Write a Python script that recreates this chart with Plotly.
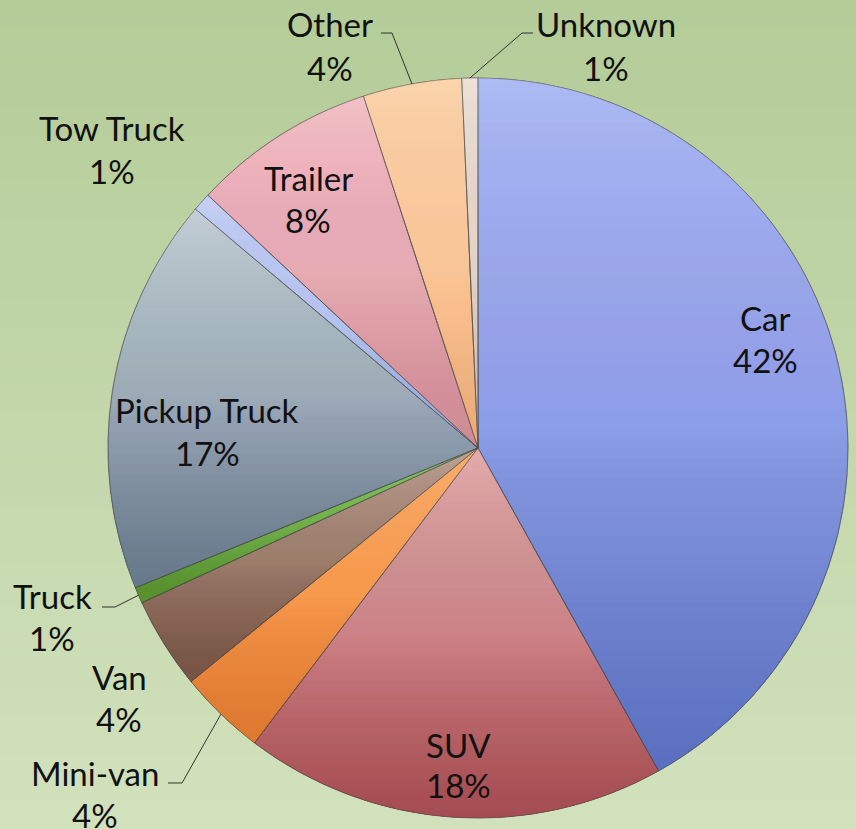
import math
import plotly.graph_objects as go

# ---------------- data ----------------
categories = ["Car", "SUV", "Mini-van", "Van", "Truck", "Pickup Truck",
              "Tow Truck", "Trailer", "Other", "Unknown"]
shares = [41.8, 18.4, 3.8, 4.0, 0.7, 17.3, 0.8, 8.0, 4.3, 0.7]

# ---------------- styles ----------------
# (top, middle, bottom) shade of each slice's vertical gradient
slice_shades = [
    ("#b4c2f7", "#8c9ee8", "#5a70c2"),   # Car
    ("#ecb2b4", "#cc8286", "#a64c50"),   # SUV
    ("#fbb676", "#f79a4e", "#e07c32"),   # Mini-van
    ("#c6ac9c", "#9c7b68", "#765646"),   # Van
    ("#9ad070", "#72ae48", "#5a9030"),   # Truck
    ("#ccd5df", "#9ca9b6", "#66788a"),   # Pickup Truck
    ("#ccd7f8", "#b3c2f0", "#97a8e0"),   # Tow Truck
    ("#f6c8cc", "#e6aab1", "#d08e96"),   # Trailer
    ("#fddab4", "#f9c699", "#f0ae78"),   # Other
    ("#f2e6de", "#e4d4c6", "#d2bfae"),   # Unknown
]
slice_colors = [s[1] for s in slice_shades]

W, H = 856, 829
CX, CY, R = 478, 448, 370          # pie geometry in pixels

FONT = "Lato"
FSIZE = 33

# label layout (pixels): x center, y of name line, y of percent line
label_pos = {
    "Car": (765, 318, 360),
    "SUV": (458, 745, 785),
    "Mini-van": (95, 773, 815),
    "Van": (119, 677, 719),
    "Truck": (52, 596, 638),
    "Pickup Truck": (207, 410, 453),
    "Tow Truck": (112, 128, 171),
    "Trailer": (308, 178, 220),
    "Other": (330, 24, 68),
    "Unknown": (606, 24, 68),
}
# leader ticks (pixels): x start, x end of the short horizontal tick, y
leader_ticks = {
    "Other": (381, 392, 33),
    "Unknown": (533, 522, 33),
    "Truck": (102, 115, 607),
    "Mini-van": (168, 182, 783),
}


def px(x):
    return x / W


def py(y):
    return 1 - y / H


def hex2rgb(h):
    h = h.lstrip("#")
    return tuple(int(h[i:i + 2], 16) for i in (0, 2, 4))


def clip(poly, yk, keep_below):
    """Sutherland-Hodgman clip of polygon against horizontal line y=yk."""
    def inside(p):
        return p[1] >= yk if keep_below else p[1] <= yk
    out = []
    n = len(poly)
    for i in range(n):
        cur, prev = poly[i], poly[i - 1]
        ci, pi_ = inside(cur), inside(prev)
        if ci:
            if not pi_:
                t = (yk - prev[1]) / (cur[1] - prev[1])
                out.append((prev[0] + t * (cur[0] - prev[0]), yk))
            out.append(cur)
        elif pi_:
            t = (yk - prev[1]) / (cur[1] - prev[1])
            out.append((prev[0] + t * (cur[0] - prev[0]), yk))
    return out


def path_of(poly, close=True):
    s = "M " + " L ".join("%.5f %.5f" % (px(x), py(y)) for x, y in poly)
    return s + (" Z" if close else "")


fig = go.Figure()
fig.add_trace(go.Pie(
    labels=categories,
    values=shares,
    sort=False,
    direction="clockwise",
    rotation=0,
    marker=dict(colors=slice_colors, line=dict(color="rgba(70,70,70,0.5)", width=1)),
    textinfo="none",
    hoverinfo="label+percent",
    showlegend=False,
    domain=dict(x=[(CX - R) / W, (CX + R) / W], y=[1 - (CY + R) / H, 1 - (CY - R) / H]),
))

shapes = []
# background gradient (light green, lighter towards the bottom)
top_c = (180, 204, 152)
bot_c = (209, 225, 188)
NB = 60
for i in range(NB):
    t = i / (NB - 1)
    c = tuple(round(top_c[k] + (bot_c[k] - top_c[k]) * t) for k in range(3))
    shapes.append(dict(type="rect", xref="paper", yref="paper", layer="below",
                       x0=-0.01, x1=1.01, y0=1 - (i + 1) / NB - 0.003, y1=1 - i / NB + 0.003,
                       fillcolor="rgb(%d,%d,%d)" % c, line=dict(width=0)))

# vertical shading of each slice (Excel-like gradient fill), derived from the slice geometry
total = sum(shares)
NS = 36
AMAX = 0.92
cum = 0.0
sectors = []
for v, (ctop, cmid, cbot) in zip(shares, slice_shades):
    a0 = cum / total * 2 * math.pi
    cum += v
    a1 = cum / total * 2 * math.pi
    steps = max(2, int(math.degrees(a1 - a0) / 1.0) + 1)
    arc = [(CX + R * math.sin(a0 + (a1 - a0) * j / steps),
            CY - R * math.cos(a0 + (a1 - a0) * j / steps)) for j in range(steps + 1)]
    poly = [(CX, CY)] + arc
    sectors.append(poly)
    ys = [p[1] for p in poly]
    ymin, ymax = min(ys), max(ys)
    ymid = (ymin + ymax) / 2
    rb, rt = hex2rgb(cbot), hex2rgb(ctop)
    for k in range(1, NS + 1):
        alpha = (AMAX / NS) / (1 - AMAX * (k - 1) / NS)
        # darker towards the bottom
        yk = ymid + (ymax - ymid) * (k - 0.5) / NS
        cp = clip(poly, yk, True)
        if len(cp) >= 3:
            shapes.append(dict(type="path", xref="paper", yref="paper", layer="above",
                               path=path_of(cp), line=dict(width=0),
                               fillcolor="rgba(%d,%d,%d,%.4f)" % (rb + (alpha,))))
        # lighter towards the top
        yk = ymid - (ymid - ymin) * (k - 0.5) / NS
        cp = clip(poly, yk, False)
        if len(cp) >= 3:
            shapes.append(dict(type="path", xref="paper", yref="paper", layer="above",
                               path=path_of(cp), line=dict(width=0),
                               fillcolor="rgba(%d,%d,%d,%.4f)" % (rt + (alpha,))))

# thin slice outlines on top of the shading
for poly in sectors:
    shapes.append(dict(type="path", xref="paper", yref="paper", layer="above",
                       path=path_of(poly), fillcolor="rgba(0,0,0,0)",
                       line=dict(color="rgba(80,80,80,0.45)", width=1)))

annotations = []
cum = 0.0
for cat, v in zip(categories, shares):
    mid = (cum + v / 2) / total * 2 * math.pi
    cum += v
    pct = "%d%%" % round(v / total * 100)
    x, y1, y2 = label_pos[cat]
    for txt, yy in ((cat, y1), (pct, y2)):
        annotations.append(dict(x=px(x), y=py(yy), xref="paper", yref="paper",
                                text=txt, showarrow=False, xanchor="center", yanchor="middle",
                                font=dict(family=FONT, size=FSIZE, color="#111111")))
    if cat in leader_ticks:
        xa, xb, yt = leader_ticks[cat]
        ex = CX + R * math.sin(mid)
        ey = CY - R * math.cos(mid)
        shapes.append(dict(type="path", xref="paper", yref="paper",
                           path=path_of([(xa, yt), (xb, yt), (ex, ey)], close=False),
                           line=dict(color="#333333", width=1), layer="above"))

fig.update_layout(
    width=W, height=H,
    margin=dict(l=0, r=0, t=0, b=0),
    paper_bgcolor="rgb(196,215,171)",
    shapes=shapes,
    annotations=annotations,
)

fig.write_html("out.html",
               config={"displayModeBar": False},
               post_script="document.body.style.margin='0';document.body.style.overflow='hidden';")
